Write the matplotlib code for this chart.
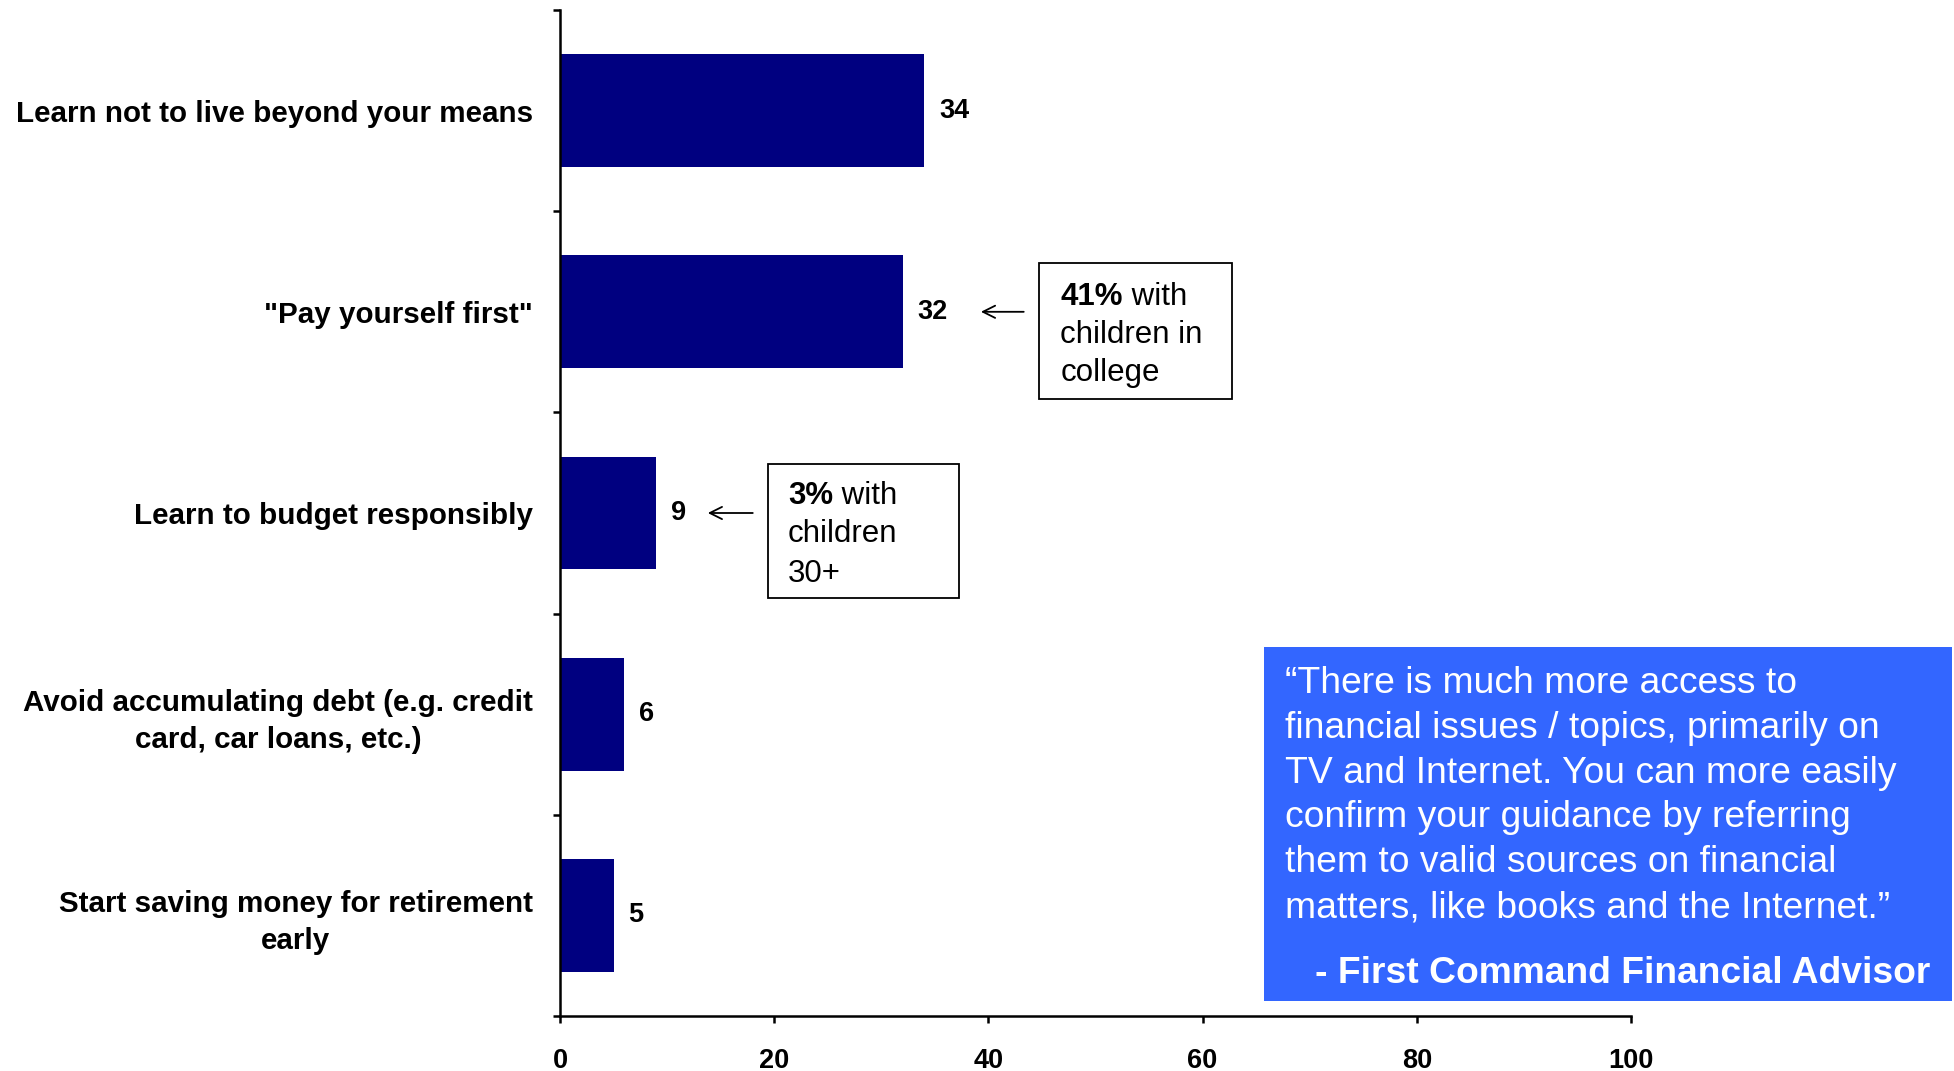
import matplotlib
matplotlib.use("Agg")
import matplotlib.pyplot as plt
from matplotlib import font_manager
from matplotlib.patches import Rectangle

# ---- data -------------------------------------------------------------
categories = [
    "Learn not to live beyond your means",
    "\"Pay yourself first\"",
    "Learn to budget responsibly",
    "Avoid accumulating debt (e.g. credit\ncard, car loans, etc.)",
    "Start saving money for retirement\nearly",
]
values = [34, 32, 9, 6, 5]
x_ticks = [0, 20, 40, 60, 80, 100]

note_college = ("41%", " with", ["children in", "college"])
note_older = ("3%", " with", ["children", "30+"])

quote_lines = [
    "\u201cThere is much more access to",
    "financial issues / topics, primarily on",
    "TV and Internet. You can more easily",
    "confirm your guidance by referring",
    "them to valid sources on financial",
    "matters, like books and the Internet.\u201d",
]
quote_source = "- First Command Financial Advisor"

# ---- fonts ------------------------------------------------------------
installed = {f.name for f in font_manager.fontManager.ttflist}
if "Liberation Sans Narrow" in installed:
    narrow = "Liberation Sans Narrow"
    cat_size, num_size = 24.5, 21.5
else:
    narrow = "Liberation Sans"
    cat_size, num_size = 21.3, 19.5
plain = "Liberation Sans"
note_size = 22.5
quote_size = 26.8

W, H = 1954, 1071
fig = plt.figure(figsize=(W / 100, H / 100), dpi=100)
fig.patch.set_facecolor("white")

ax_l, ax_r, ax_t, ax_b = 560, 1631, 10, 1016
ax = fig.add_axes([ax_l / W, 1 - ax_b / H, (ax_r - ax_l) / W, (ax_b - ax_t) / H])

ypos = list(range(len(categories)))
ax.barh(ypos, values, height=0.56, color="#000080", edgecolor="none")

ax.set_xlim(0, 100)
ax.set_ylim(len(categories) - 0.5, -0.5)

for s in ("top", "right"):
    ax.spines[s].set_visible(False)
for s in ("left", "bottom"):
    ax.spines[s].set_linewidth(1.8)

ax.set_xticks(x_ticks)
ax.set_xticklabels([str(t) for t in x_ticks], fontfamily=narrow,
                   fontweight="bold", fontsize=num_size)
ax.tick_params(axis="x", direction="out", length=5, width=1.8, pad=18)

ax.set_yticks(ypos)
ax.set_yticklabels(categories, fontfamily=narrow, fontweight="bold",
                   fontsize=cat_size, linespacing=1.4, multialignment="center")
ax.tick_params(axis="y", which="major", length=0, pad=19.5)
ax.set_yticks([i - 0.5 for i in range(len(categories) + 1)], minor=True)
ax.tick_params(axis="y", which="minor", direction="out", length=5, width=1.8)

for y, v in zip(ypos, values):
    ax.text(v + 1.4, y, str(v), ha="left", va="center", fontfamily=narrow,
            fontweight="bold", fontsize=num_size)


def note(box_x0, box_x1, box_y0, box_y1, tail_x, tip_x, y_arrow,
         text_x, line_ys, parts):
    ax.add_patch(Rectangle((box_x0, box_y0), box_x1 - box_x0, box_y1 - box_y0,
                           facecolor="white", edgecolor="black", lw=1.3,
                           clip_on=False, zorder=3))
    bold, rest, lines = parts
    t = ax.text(text_x, line_ys[0], bold, ha="left", va="bottom",
                fontfamily=plain, fontweight="bold", fontsize=note_size,
                zorder=4)
    ax.annotate(rest, xy=(1, 0), xycoords=t, ha="left", va="bottom",
                fontfamily=plain, fontsize=note_size, zorder=4)
    for ly, line in zip(line_ys[1:], lines):
        ax.text(text_x, ly, line, ha="left", va="bottom",
                fontfamily=plain, fontsize=note_size, zorder=4)
    ax.annotate("", xy=(tip_x, y_arrow), xytext=(tail_x, y_arrow),
                arrowprops=dict(arrowstyle="->", lw=1.3, color="black",
                                mutation_scale=22, shrinkA=0, shrinkB=0))


note(44.7, 62.7, 0.757, 1.433, 43.3, 39.3, 1.0, 46.7,
     [1.0, 1.19, 1.38], note_college)
note(19.4, 37.3, 1.756, 2.422, 18.0, 13.8, 2.0, 21.3,
     [1.99, 2.18, 2.38], note_older)

# ---- quote panel ------------------------------------------------------
bx0, bx1, by0, by1 = 1264, 1952, 647, 1001
fig.patches.append(Rectangle((bx0 / W, 1 - by1 / H), (bx1 - bx0) / W,
                             (by1 - by0) / H, transform=fig.transFigure,
                             facecolor="#3366FF", edgecolor="none", zorder=0))
for i, line in enumerate(quote_lines):
    fig.text(1285 / W, 1 - (693 + 44.8 * i) / H, line, ha="left",
             va="baseline", color="white", fontfamily=plain,
             fontsize=quote_size)
fig.text(1930 / W, 1 - 983 / H, quote_source, ha="right", va="baseline",
         color="white", fontfamily=plain, fontweight="bold",
         fontsize=quote_size)

fig.savefig("out.png", dpi=100)
